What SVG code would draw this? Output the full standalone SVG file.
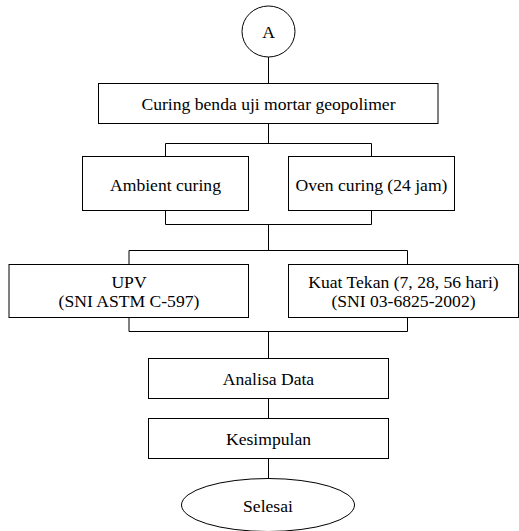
<svg xmlns="http://www.w3.org/2000/svg" width="519" height="531" viewBox="0 0 519 531">
<style>
.s{fill:#fff;stroke:#000;stroke-width:1}
.c{fill:none;stroke:#000;stroke-width:1}
text{font-family:"Liberation Serif","Times New Roman",serif;font-size:17.6px;fill:#000;text-anchor:middle;dominant-baseline:central}
</style>
<rect width="519" height="531" fill="#fff"/>
<g id="connectors">
<path class="c" d="M268.5 57V83.5M268.5 123.5V143.5M165.5 143.5H371.5M165.5 143.5V156.5M371.5 143.5V156.5M165.5 210.5V224.5H371.5V210.5M268.5 224.5V250.5M129 250.5H407.5M129 250.5V264.5M407.5 250.5V264.5M129 317.5V331.5H407.5V317.5M268.5 331.5V358.5M268.5 398.5V418.5M268.5 458.5V478.5"/>
</g>
<g id="nA"><ellipse class="s" cx="268.5" cy="31.5" rx="26.5" ry="25.5"/><text x="268.5" y="32">A</text></g>
<g id="n1"><rect class="s" x="98.5" y="83.5" width="339.5" height="40"/><text x="268.5" y="103.5">Curing benda uji mortar geopolimer</text></g>
<g id="n2"><rect class="s" x="82.5" y="156.5" width="166" height="54"/><text x="165.5" y="184.5">Ambient curing</text></g>
<g id="n3"><rect class="s" x="288.5" y="156.5" width="166" height="54"/><text x="371.5" y="184.5">Oven curing (24 jam)</text></g>
<g id="n4"><rect class="s" x="9" y="264.5" width="239.5" height="53"/><text x="129" y="282">UPV</text><text x="129" y="300.5">(SNI ASTM C-597)</text></g>
<g id="n5"><rect class="s" x="288.5" y="264.5" width="230" height="53"/><text x="403.5" y="282">Kuat Tekan (7, 28, 56 hari)</text><text x="403.5" y="300.5">(SNI 03-6825-2002)</text></g>
<g id="n6"><rect class="s" x="148.5" y="358.5" width="240" height="40"/><text x="268.5" y="379">Analisa Data</text></g>
<g id="n7"><rect class="s" x="148.5" y="418.5" width="240" height="40"/><text x="268.5" y="439">Kesimpulan</text></g>
<g id="n8"><ellipse class="s" cx="268" cy="505" rx="86.5" ry="26.5"/><text x="268" y="505.5">Selesai</text></g>
</svg>
